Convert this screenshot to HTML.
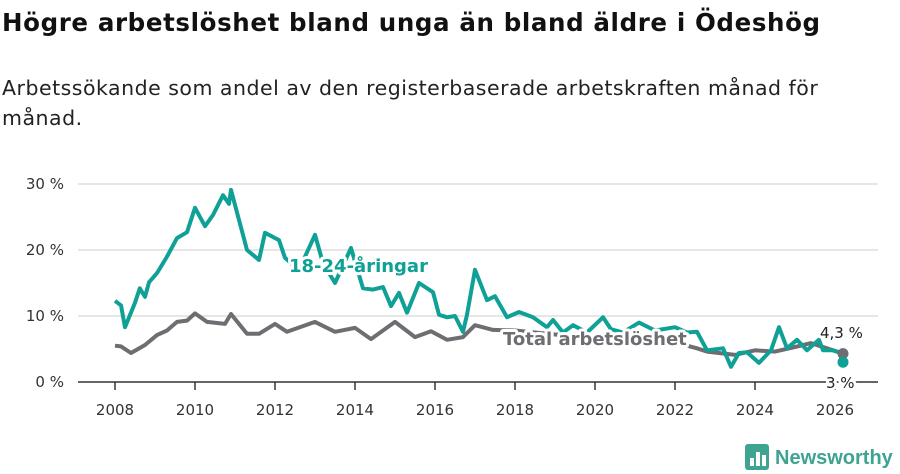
<!DOCTYPE html>
<html><head><meta charset="utf-8">
<style>
body{margin:0;width:900px;height:474px;background:#fff;font-family:"DejaVu Sans","Liberation Sans",sans-serif;overflow:hidden;position:relative}
h1{position:absolute;left:2px;top:8px;margin:0;font-size:24.5px;font-weight:bold;color:#111;letter-spacing:0.62px;white-space:nowrap}
.sub{position:absolute;left:2px;top:73px;font-size:20.5px;color:#222;line-height:30px;width:850px;letter-spacing:0.5px}
svg{position:absolute;left:0;top:0}
</style></head><body>
<h1>Högre arbetslöshet bland unga än bland äldre i Ödeshög</h1>
<div class="sub">Arbetssökande som andel av den registerbaserade arbetskraften månad för månad.</div>
<svg id="c" width="900" height="474"></svg>
<script>
const yTicks=[0,10,20,30];
const yTickLabels=["0 %","10 %","20 %","30 %"];
const xTicks=[2008,2010,2012,2014,2016,2018,2020,2022,2024,2026];
const youthT=[2008,2008.15,2008.25,2008.5,2008.62,2008.75,2008.85,2009.05,2009.3,2009.55,2009.8,2010,2010.25,2010.45,2010.7,2010.85,2010.9,2011.3,2011.6,2011.75,2012.1,2012.25,2012.6,2013,2013.2,2013.5,2013.9,2014.2,2014.45,2014.7,2014.9,2015.1,2015.3,2015.6,2015.95,2016.1,2016.3,2016.5,2016.7,2016.8,2017,2017.3,2017.5,2017.8,2018.1,2018.45,2018.8,2018.95,2019.2,2019.45,2019.8,2020.2,2020.4,2020.7,2021.1,2021.5,2022,2022.3,2022.55,2022.8,2023.2,2023.4,2023.6,2023.8,2024.1,2024.4,2024.6,2024.8,2025.05,2025.3,2025.6,2025.7,2025.95,2026.1,2026.2];
const youthV=[12.3,11.6,8.3,12,14.2,12.9,15.1,16.5,19,21.8,22.7,26.4,23.6,25.3,28.3,27,29.1,20,18.5,22.6,21.5,18.8,17,22.3,18,15,20.3,14.2,14,14.4,11.5,13.5,10.5,15,13.6,10.2,9.8,10,7.6,10.2,17,12.4,13,9.8,10.6,9.8,8.3,9.4,7.5,8.6,7.5,9.8,8,7.5,9,7.8,8.3,7.5,7.6,4.8,5.1,2.3,4.4,4.5,2.9,4.8,8.3,5.1,6.4,4.8,6.4,4.8,4.8,4.5,3];
const totT=[2008,2008.15,2008.4,2008.75,2009.05,2009.3,2009.55,2009.8,2010,2010.3,2010.75,2010.9,2011.3,2011.6,2012,2012.3,2013,2013.5,2014,2014.4,2015,2015.5,2015.9,2016.3,2016.7,2017,2017.45,2018,2018.5,2019,2019.5,2020,2020.5,2021,2021.5,2022,2022.55,2022.8,2023.5,2024,2024.5,2025,2025.4,2025.8,2026.2];
const totV=[5.5,5.4,4.4,5.6,7.1,7.8,9.1,9.3,10.4,9.1,8.8,10.3,7.3,7.3,8.8,7.6,9.1,7.6,8.2,6.5,9.1,6.8,7.7,6.4,6.8,8.6,7.9,7.8,7.5,7.2,7,6.8,6.6,6.5,6.2,6,5.1,4.6,4.1,4.8,4.6,5.3,5.9,5.1,4.3];
const X=t=>115+(t-2008)*40;
const Y=v=>382-v*6.6;
const svg=document.getElementById('c');
const NS='http://www.w3.org/2000/svg';
function el(tag,attrs,txt){const e=document.createElementNS(NS,tag);for(const k in attrs)e.setAttribute(k,attrs[k]);if(txt!==undefined)e.textContent=txt;svg.appendChild(e);return e;}
yTicks.forEach((v,i)=>{
  if(v>0){const g=el('line',{x1:78,x2:878,y1:Y(v),y2:Y(v),stroke:'#ddd','stroke-width':1.5});
  
  }
  const t=el('text',{x:64,y:Y(v)+5,'text-anchor':'end','font-size':15,fill:'#333'},yTickLabels[i]);
  
  
});
const ax=el('line',{x1:78,x2:878,y1:382,y2:382,stroke:'#333','stroke-width':1.5});


xTicks.forEach(y=>{
  const tk=el('line',{x1:X(y),x2:X(y),y1:382,y2:390,stroke:'#333','stroke-width':1.5});
  
  
  const t=el('text',{x:X(y),y:415,'text-anchor':'middle','font-size':15,fill:'#333'},String(y));
  
  
});
function path(T,V){return T.map((t,i)=>(i?'L':'M')+X(t).toFixed(1)+','+Y(V[i]).toFixed(1)).join('');}
const pt=el('path',{d:path(totT,totV),fill:'none',stroke:'#6e6d72','stroke-width':4,'stroke-linejoin':'round'});


const py=el('path',{d:path(youthT,youthV),fill:'none',stroke:'#0fa096','stroke-width':4,'stroke-linejoin':'round'});


const halo={stroke:'#fff','stroke-width':6,'paint-order':'stroke','stroke-linejoin':'round'};
const l1=el('text',Object.assign({x:289,y:272,'font-size':18,'font-weight':'bold',fill:'#0fa096'},halo),'18-24-åringar');


const l2=el('text',Object.assign({x:503,y:345,'font-size':18,'font-weight':'bold',fill:'#6e6d72'},halo),'Total arbetslöshet');


const d1=el('circle',{cx:X(totT[totT.length-1]),cy:Y(totV[totV.length-1]),r:5.5,fill:'#6e6d72'});


const d2=el('circle',{cx:X(youthT[youthT.length-1]),cy:Y(youthV[youthV.length-1]),r:5.5,fill:'#0fa096'});


const e1=el('text',Object.assign({x:820,y:338,'font-size':15,fill:'#222'},halo),'4,3 %');


const e2=el('text',Object.assign({x:826,y:388,'font-size':15,fill:'#222'},halo),'3 %');


const lg=el('rect',{x:745,y:444,width:24,height:26,rx:3,fill:'#3fa392'});


[[750,458,4,8],[756,452,4,14],[762,455,4,11]].forEach(b=>{const r=el('rect',{x:b[0],y:b[1],width:b[2],height:b[3],fill:'#fff'});

});
const lt=el('text',{x:775,y:464,'font-size':20,'font-weight':'bold',fill:'#3fa392','font-family':'Liberation Sans'},'Newsworthy');


</script>
</body></html>
